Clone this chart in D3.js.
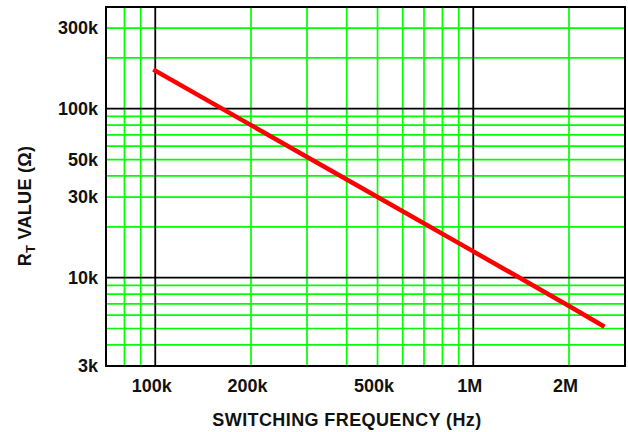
<!DOCTYPE html>
<html>
<head>
<meta charset="utf-8">
<script src="https://cdn.jsdelivr.net/npm/d3@7"></script>
<style>
	body { margin: 0; background: #fff; }
	svg { display: block; }
	text { font-family: "Liberation Sans", Arial, sans-serif; font-weight: bold; }
</style>
</head>
<body>
<script>
//////////////////////////////////////////////
// Data //////////////////////////////////////
//////////////////////////////////////////////
// curve (Hz, ohms)
var freqHz = [100e3, 200e3, 500e3, 1e6, 2e6, 2.55e6];
var rtOhm = [168e3, 80e3, 30e3, 14.3e3, 6.8e3, 5.2e3];

// tick labels
var xTickValues = [100e3, 200e3, 500e3, 1e6, 2e6];
var xTickLabels = ["100k", "200k", "500k", "1M", "2M"];
var yTickValues = [3e3, 10e3, 30e3, 50e3, 100e3, 300e3];
var yTickLabels = ["3k", "10k", "30k", "50k", "100k", "300k"];

// grid lines
var xMinorGrid = [80e3, 90e3, 200e3, 300e3, 400e3, 500e3, 600e3, 700e3, 800e3, 900e3, 2e6];
var xMajorGrid = [100e3, 1e6];
var yMinorGrid = [4e3, 5e3, 6e3, 7e3, 8e3, 9e3, 20e3, 30e3, 40e3, 50e3, 60e3, 70e3, 80e3, 90e3, 200e3, 300e3];
var yMajorGrid = [10e3, 100e3];

var data = freqHz.map(function(f, i) { return {freq: f, rt: rtOhm[i]}; });

//////////////////////////////////////////////
// Chart Config /////////////////////////////
//////////////////////////////////////////////
var margin = {top: 7, right: 3, bottom: 66, left: 106},
	width = 628 - margin.left - margin.right,
	height = 432 - margin.top - margin.bottom;

var xScale = d3.scaleLog().domain([70e3, 3e6]).range([0, width]);
var yScale = d3.scaleLog().domain([3e3, 400e3]).range([height, 0]);

var svg = d3.select("body")
			.append("svg")
			.attr("width", 628)
			.attr("height", 432);

var artboard = svg.append("g")
				  .attr("transform", "translate(" + margin.left + "," + margin.top + ")");

//////////////////////////////////////////////
// Grid //////////////////////////////////////
//////////////////////////////////////////////
function vLines(vals, color, w) {
	artboard.append("g").selectAll("line").data(vals).enter().append("line")
		.attr("x1", function(d) { return xScale(d); })
		.attr("x2", function(d) { return xScale(d); })
		.attr("y1", 0).attr("y2", height)
		.style("stroke", color).style("stroke-width", w);
}
function hLines(vals, color, w) {
	artboard.append("g").selectAll("line").data(vals).enter().append("line")
		.attr("y1", function(d) { return yScale(d); })
		.attr("y2", function(d) { return yScale(d); })
		.attr("x1", 0).attr("x2", width)
		.style("stroke", color).style("stroke-width", w);
}
vLines(xMinorGrid, "#00ff00", 1.7);
hLines(yMinorGrid, "#00ff00", 1.7);
vLines(xMajorGrid, "#000", 1.8);
hLines(yMajorGrid, "#000", 1.8);

// frame
artboard.append("rect")
		.attr("width", width).attr("height", height)
		.style("fill", "none").style("stroke", "#000").style("stroke-width", 2);

//////////////////////////////////////////////
// Axes //////////////////////////////////////
//////////////////////////////////////////////
var xAxis = d3.axisBottom(xScale)
			  .tickValues(xTickValues)
			  .tickFormat(function(d, i) { return xTickLabels[i]; })
			  .tickSize(0).tickPadding(13);
var yAxis = d3.axisLeft(yScale)
			  .tickValues(yTickValues)
			  .tickFormat(function(d, i) { return yTickLabels[i]; })
			  .tickSize(0).tickPadding(8);

var xAxisEl = artboard.append("g")
					  .attr("transform", "translate(0," + height + ")")
					  .call(xAxis);
var yAxisEl = artboard.append("g").call(yAxis);

[xAxisEl, yAxisEl].forEach(function(el) {
	el.select(".domain").remove();
	el.selectAll("text")
	  .style("font-size", "18px")
	  .style("font-family", "'Liberation Sans', Arial, sans-serif")
	  .style("font-weight", "bold")
	  .style("fill", "#111");
});
xAxisEl.selectAll("text").attr("dx", "-4");

//////////////////////////////////////////////
// Curve /////////////////////////////////////
//////////////////////////////////////////////
var line = d3.line()
			 .x(function(d) { return xScale(d.freq); })
			 .y(function(d) { return yScale(d.rt); });

artboard.append("path").datum(data)
		.attr("d", line)
		.style("fill", "none")
		.style("stroke", "#ff0000")
		.style("stroke-width", 4.5)
		.style("stroke-linecap", "square");

//////////////////////////////////////////////
// Titles ////////////////////////////////////
//////////////////////////////////////////////
svg.append("text")
   .attr("x", 347).attr("y", 426)
   .attr("text-anchor", "middle")
   .style("font-size", "18px")
   .style("letter-spacing", "0.4px")
   .style("fill", "#111")
   .text("SWITCHING FREQUENCY (Hz)");

var yTitle = svg.append("text")
				.attr("transform", "translate(31,206) rotate(-90)")
				.attr("text-anchor", "middle")
				.style("font-size", "18px")
				.style("letter-spacing", "0.3px")
				.style("fill", "#111");
yTitle.append("tspan").text("R");
yTitle.append("tspan").attr("dy", 4).style("font-size", "13px").text("T");
yTitle.append("tspan").attr("dy", -4).text(" VALUE (Ω)");
</script>
</body>
</html>
